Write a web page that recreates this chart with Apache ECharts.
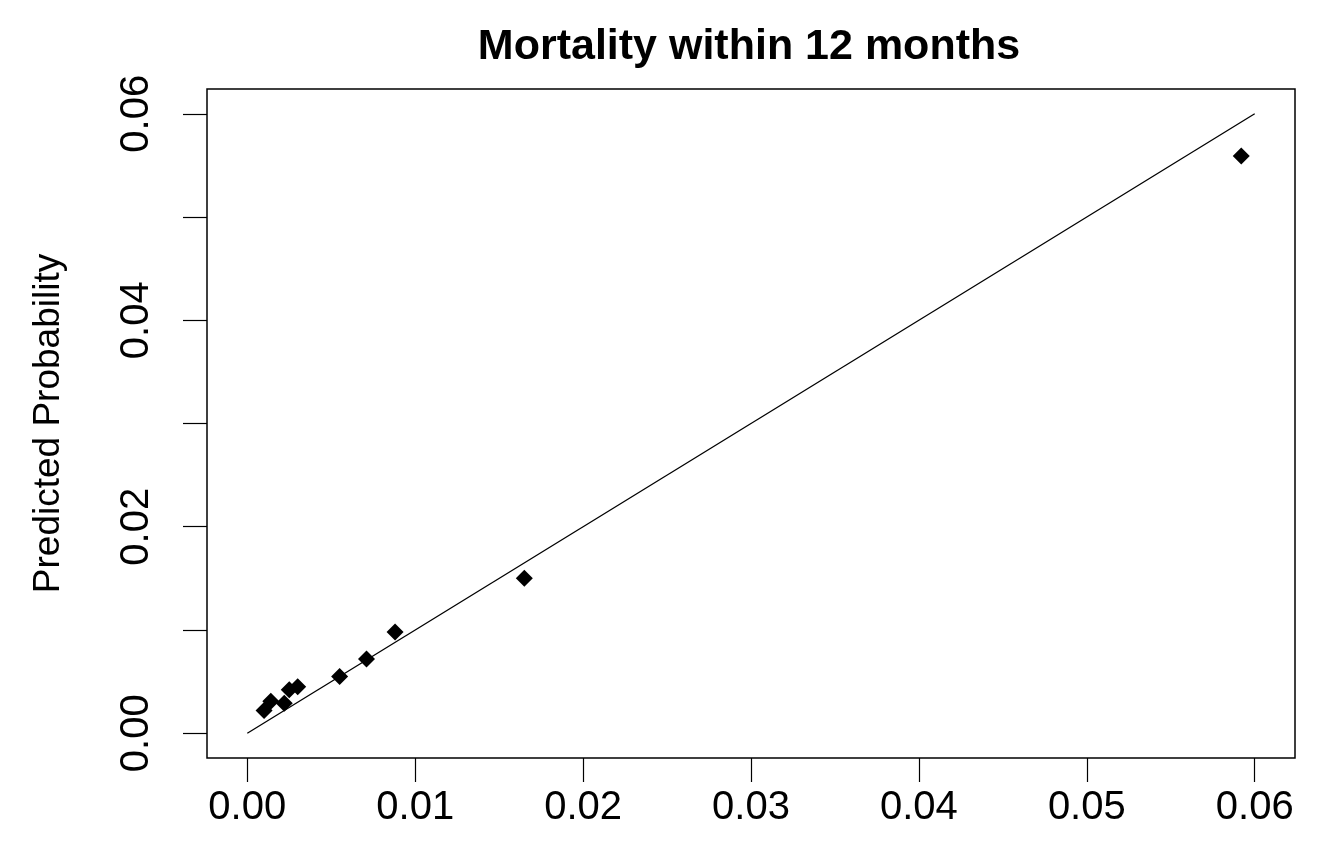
<!DOCTYPE html>
<html>
<head>
<meta charset="utf-8">
<script src="https://cdn.jsdelivr.net/npm/echarts@6/dist/echarts.min.js"></script>
<style>
  html, body { margin: 0; padding: 0; background: #fff; }
  #chart { width: 1322px; height: 854px; }
</style>
</head>
<body>
<div id="chart"></div>
<script>
// observed vs predicted mortality (reading off the calibration plot)
var observed = [0.0010, 0.0014, 0.0022, 0.0025, 0.0030, 0.0055, 0.0071, 0.0088, 0.0165, 0.0592];
var predicted = [0.0022, 0.0031, 0.0029, 0.0042, 0.0045, 0.0055, 0.0072, 0.0098, 0.0150, 0.0559];
var refLine = [[0, 0], [0.06, 0.06]];
var xTicks = [0, 0.01, 0.02, 0.03, 0.04, 0.05, 0.06];
var yTicks = [0, 0.01, 0.02, 0.03, 0.04, 0.05, 0.06];
var yLabels = [0, 0.02, 0.04, 0.06];

(function() {
  var font = '"Liberation Sans", Arial, sans-serif';
  var chart = echarts.init(document.getElementById('chart'), null, { renderer: 'canvas' });

  var points = observed.map(function(x, i) { return [x, predicted[i]]; });

  chart.setOption({
    animation: false,
    backgroundColor: '#fff',
    graphic: [{
      type: 'text',
      x: 749,
      y: 47,
      style: {
        text: 'Mortality within 12 months',
        font: 'bold 43px ' + font,
        fill: '#000',
        align: 'center',
        verticalAlign: 'middle'
      }
    }],
    grid: {
      left: 207, right: 27, top: 89, bottom: 96,
      show: true,
      borderColor: '#000',
      borderWidth: 1.5
    },
    xAxis: {
      type: 'value',
      min: -0.0024, max: 0.0624,
      splitLine: { show: false },
      axisLine: { show: false, onZero: false },
      axisTick: { show: true, inside: false, length: 24, customValues: xTicks, lineStyle: { color: '#000', width: 1.2 } },
      axisLabel: {
        customValues: xTicks,
        margin: 30,
        color: '#000',
        fontFamily: font,
        fontSize: 40,
        formatter: function(v) { return v.toFixed(2); }
      }
    },
    yAxis: {
      type: 'value',
      min: -0.0024, max: 0.0624,
      name: 'Predicted Probability',
      nameLocation: 'middle',
      nameGap: 140,
      nameRotate: 90,
      nameTextStyle: { color: '#000', fontFamily: font, fontSize: 37 },
      splitLine: { show: false },
      axisLine: { show: false, onZero: false },
      axisTick: { show: true, inside: false, length: 24, customValues: yTicks, lineStyle: { color: '#000', width: 1.2 } },
      axisLabel: {
        customValues: yLabels,
        rotate: 90,
        margin: 50,
        color: '#000',
        fontFamily: font,
        fontSize: 40,
        formatter: function(v) { return v.toFixed(2); }
      }
    },
    series: [
      {
        type: 'line',
        data: refLine,
        symbol: 'none',
        lineStyle: { color: '#000', width: 1.3 },
        silent: true
      },
      {
        type: 'scatter',
        data: points,
        symbol: 'diamond',
        symbolSize: 17,
        itemStyle: { color: '#000', opacity: 1 }
      }
    ]
  });

  window.addEventListener('resize', function() { chart.resize(); });
})();
</script>
</body>
</html>
